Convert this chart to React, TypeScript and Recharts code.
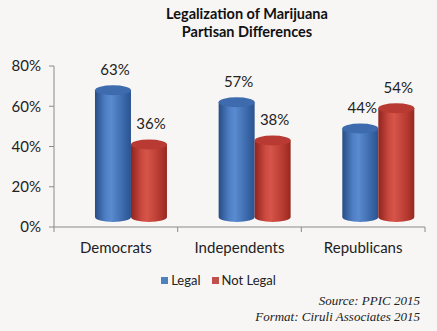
import { BarChart, Bar, XAxis, YAxis, Legend, LabelList } from "recharts";

const categories = ["Democrats", "Independents", "Republicans"];
const legalValues = [63, 57, 44];
const notLegalValues = [36, 38, 54];
const yTicks = [0, 20, 40, 60, 80];

const data = categories.map((name, i) => ({
  name,
  legal: legalValues[i],
  notLegal: notLegalValues[i],
}));

const FONT = "Lato, 'Noto Sans', sans-serif";
const DEPTH_X = 15;
const DEPTH_Y = 10;
const RY = 5;
const HALF_BAND = (425 - 54) / 6;

const colors = {
  legal: { top: "#3d6bad", swatch: "#4f81bd", grad: "cylBlue" },
  notLegal: { top: "#b83a32", swatch: "#c0504d", grad: "cylRed" },
};

function makeCylinder(kind: "legal" | "notLegal") {
  return function Cylinder(props: any) {
    const { x, y, width, height } = props;
    if (width == null || height == null) return null;
    const left = x + DEPTH_X;
    const right = left + width;
    const top = y - DEPTH_Y;
    const bottom = y + height - DEPTH_Y;
    const rx = width / 2;
    const c = colors[kind];
    return (
      <g>
        <path
          d={`M${left},${top} L${left},${bottom} A${rx},${RY} 0 0 0 ${right},${bottom} L${right},${top} Z`}
          fill={`url(#${c.grad})`}
        />
        <ellipse cx={left + rx} cy={top} rx={rx} ry={RY} fill={c.top} />
      </g>
    );
  };
}

function ValueLabel(props: any) {
  const { x, y, width, value } = props;
  return (
    <text
      x={x + width / 2 + DEPTH_X + 2}
      y={y - 29}
      textAnchor="middle"
      dominantBaseline="middle"
      fontFamily={FONT}
      fontSize={15}
      fill="#222"
    >
      {value}%
    </text>
  );
}

function CategoryTick(props: any) {
  const { x, y, payload, index } = props;
  return (
    <g>
      <line x1={x - HALF_BAND} y1={y} x2={x - HALF_BAND} y2={y + 5} stroke="#8a8a8a" />
      {index === categories.length - 1 && (
        <line x1={x + HALF_BAND} y1={y} x2={x + HALF_BAND} y2={y + 5} stroke="#8a8a8a" />
      )}
      <text
        x={x}
        y={y + 22}
        textAnchor="middle"
        dominantBaseline="middle"
        fontFamily={FONT}
        fontSize={15}
        fill="#222"
      >
        {payload.value}
      </text>
    </g>
  );
}

function LegendContent() {
  const items = [
    { label: "Legal", color: colors.legal.swatch },
    { label: "Not Legal", color: colors.notLegal.swatch },
  ];
  return (
    <div style={{ display: "flex", justifyContent: "center", gap: 11, fontFamily: FONT, fontSize: 13, color: "#222" }}>
      {items.map((it) => (
        <span key={it.label} style={{ display: "flex", alignItems: "center" }}>
          <span style={{ width: 7, height: 7, background: it.color, marginRight: 3, display: "inline-block" }} />
          {it.label}
        </span>
      ))}
    </div>
  );
}

export default function App() {
  return (
    <div
      style={{
        position: "absolute",
        left: 0,
        top: 0,
        width: 437,
        height: 331,
        background: "#f7f6f5",
        overflow: "hidden",
      }}
    >
      <div
        style={{
          position: "absolute",
          top: 5,
          left: 0,
          width: 494,
          textAlign: "center",
          fontFamily: FONT,
          fontWeight: 700,
          fontSize: 14.5,
          lineHeight: "18px",
          color: "#111",
        }}
      >
        Legalization of Marijuana
        <br />
        Partisan Differences
      </div>
      <BarChart
        width={437}
        height={331}
        data={data}
        margin={{ top: 66, right: 12, left: 0, bottom: 74 }}
        barCategoryGap="21%"
        barGap={0}
      >
        <defs>
          <linearGradient id="cylBlue" x1="0" y1="0" x2="1" y2="0">
            <stop offset="0%" stopColor="#284d86" />
            <stop offset="30%" stopColor="#4f80c6" />
            <stop offset="45%" stopColor="#5a8bd0" />
            <stop offset="80%" stopColor="#3a67a8" />
            <stop offset="100%" stopColor="#2b5290" />
          </linearGradient>
          <linearGradient id="cylRed" x1="0" y1="0" x2="1" y2="0">
            <stop offset="0%" stopColor="#8f241e" />
            <stop offset="30%" stopColor="#cc4a40" />
            <stop offset="45%" stopColor="#d6544a" />
            <stop offset="80%" stopColor="#b5392f" />
            <stop offset="100%" stopColor="#962920" />
          </linearGradient>
        </defs>
        <XAxis
          dataKey="name"
          height={30}
          axisLine={{ stroke: "#8a8a8a" }}
          tickLine={false}
          tickSize={0}
          tickMargin={0}
          tick={<CategoryTick />}
          interval={0}
        />
        <YAxis
          width={54}
          domain={[0, 80]}
          ticks={yTicks}
          tickFormatter={(v) => `${v}%`}
          axisLine={{ stroke: "#8a8a8a" }}
          tickLine={{ stroke: "#8a8a8a" }}
          tickSize={5}
          tickMargin={8}
          tick={{ fill: "#222", fontSize: 15, fontFamily: FONT }}
        />
        <Legend
          verticalAlign="middle"
          align="center"
          content={<LegendContent />}
          wrapperStyle={{ top: 272, left: 0, width: 437 }}
        />
        <Bar dataKey="legal" name="Legal" shape={makeCylinder("legal")} isAnimationActive={false}>
          <LabelList dataKey="legal" content={<ValueLabel />} />
        </Bar>
        <Bar dataKey="notLegal" name="Not Legal" shape={makeCylinder("notLegal")} isAnimationActive={false}>
          <LabelList dataKey="notLegal" content={<ValueLabel />} />
        </Bar>
      </BarChart>
      <div
        style={{
          position: "absolute",
          right: 17,
          top: 293,
          textAlign: "right",
          fontFamily: "'Liberation Serif', serif",
          fontStyle: "italic",
          fontSize: 13,
          lineHeight: "16px",
          color: "#222",
        }}
      >
        Source: PPIC 2015
        <br />
        Format: Ciruli Associates 2015
      </div>
    </div>
  );
}
